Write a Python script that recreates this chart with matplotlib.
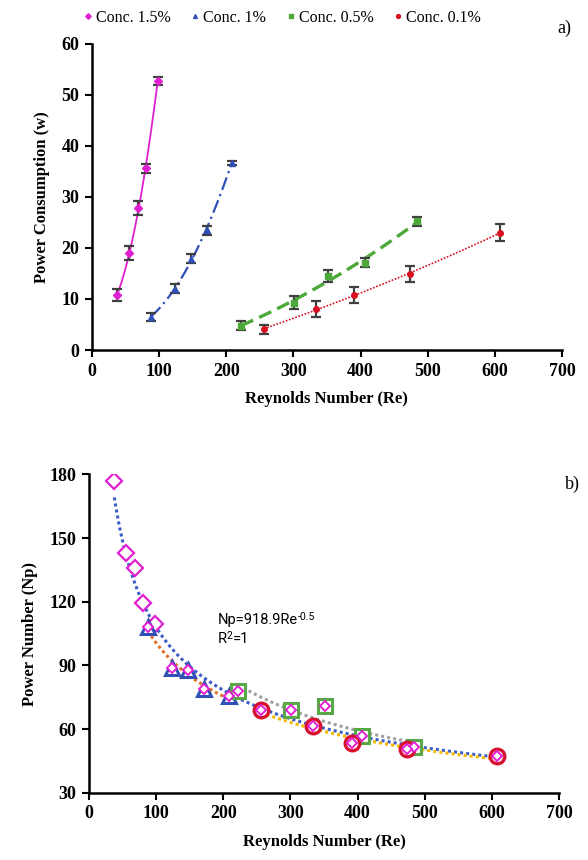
import numpy as np
import matplotlib
matplotlib.use('Agg')
import matplotlib.pyplot as plt

plt.rcParams['font.family'] = 'Liberation Serif'

# Reynolds numbers per concentration
re_15 = [38, 56, 69, 81, 98]
re_10 = [88, 124, 147, 172, 208]
re_05 = [222, 301, 351, 406, 484]
re_01 = [256, 334, 391, 473, 608]

# power consumption (w) and error bars
p_15 = [10.8, 19.0, 27.9, 35.6, 52.8]
e_15 = [1.25, 1.3, 1.4, 0.9, 0.8]
p_10 = [6.5, 12.0, 17.9, 23.5, 36.7]
e_10 = [0.8, 0.9, 0.9, 0.9, 0.4]
p_05 = [4.8, 9.3, 14.5, 17.1, 25.2]
e_05 = [0.9, 1.3, 1.25, 0.9, 0.9]
p_01 = [4.1, 8.0, 10.8, 14.9, 23.0]
e_01 = [0.9, 1.6, 1.6, 1.6, 1.65]

# power number
np_15 = [177, 143, 136, 119.2, 109.3]
np_10 = [108, 89, 87.8, 78.7, 75.6]
np_05 = [78, 69, 71, 56.9, 51.7]
np_01 = [69, 61.4, 53.6, 50.5, 47.3]

labels = ['Conc. 1.5%', 'Conc. 1%', 'Conc. 0.5%', 'Conc. 0.1%']

fig = plt.figure(figsize=(5.88, 8.6), dpi=100)
ax1 = fig.add_axes([0.156, 0.593, 0.8, 0.356])
ax2 = fig.add_axes([0.151, 0.078, 0.8, 0.3705])

# ---- panel a
series = [
    (re_15, p_15, e_15, '#E020D0', 'D', '-', 1.3),
    (re_10, p_10, e_10, '#3050B8', '^', (0, (6, 2, 1, 2)), 1.6),
    (re_05, p_05, e_05, '#4CA838', 's', (0, (4, 2)), 2.4),
    (re_01, p_01, e_01, '#D81020', 'o', (0, (1, 1)), 1.2),
]
handles = []
for (x, y, e, c, m, ls, lw), lab in zip(series, labels):
    coef = np.polyfit(x, y, 2)
    xs = np.linspace(min(x), max(x), 100)
    ax1.plot(xs, np.polyval(coef, xs), color=c, ls=ls, lw=lw, zorder=2)
    ax1.errorbar(x, y, yerr=e, fmt='none', ecolor='#404040', elinewidth=1.6,
                 capsize=3.5, capthick=1.6, zorder=3)
    h, = ax1.plot(x, y, ls='none', marker=m, color=c, ms=4, zorder=4,
                  label=lab)
    handles.append(h)

ax1.set_xlim(0, 700)
ax1.set_ylim(0, 60)
ax1.set_xticks(range(0, 701, 100))
ax1.set_yticks(range(0, 61, 10))
ax1.set_xlabel('Reynolds Number (Re)', fontsize=12, fontweight='bold', labelpad=8)
ax1.set_ylabel('Power Consumption (w)', fontsize=12, fontweight='bold', labelpad=8)
fig.legend(handles=handles, labels=labels, loc='center', bbox_to_anchor=(0.48, 0.979),
           ncol=4, frameon=False, fontsize=11.5, handlelength=0.5,
           handletextpad=0.25, columnspacing=1.3, markerscale=0.7)
fig.text(0.948, 0.962, 'a)', fontsize=13)

# ---- panel b
re_all = re_15 + re_10 + re_05 + re_01
np_all = np_15 + np_10 + np_05 + np_01

dot = (0, (1, 1))
b_all = np.polyfit(np.log(re_all), np.log(np_all), 1)
xs = np.linspace(min(re_all), max(re_all), 200)
ax2.plot(xs, np.exp(np.polyval(b_all, np.log(xs))), color='#3A5CC8', ls=dot, lw=2.2, zorder=2)
for x, y, c in [(re_10, np_10, '#E07028'), (re_05, np_05, '#A0A0A0'), (re_01, np_01, '#F5B800')]:
    b = np.polyfit(np.log(x), np.log(y), 1)
    xs = np.linspace(min(x), max(x), 100)
    ax2.plot(xs, np.exp(np.polyval(b, np.log(xs))), color=c, ls=dot, lw=2.2, zorder=2)

ax2.plot(re_15, np_15, ls='none', marker='D', ms=8, mfc='white', mec='#E020D0', mew=1.6, zorder=4)
ax2.plot(re_10, np_10, ls='none', marker='^', ms=10, mfc='white', mec='#3050B8', mew=2.2, zorder=4)
ax2.plot(re_05, np_05, ls='none', marker='s', ms=10, mfc='white', mec='#58A848', mew=2.2, zorder=4)
ax2.plot(re_01, np_01, ls='none', marker='o', ms=10.5, mfc='white', mec='#D81030', mew=2.4, zorder=4)
ax2.plot(re_10 + re_05 + re_01, np_10 + np_05 + np_01, ls='none', marker='D', ms=5,
         mfc='white', mec='#E020D0', mew=1.4, zorder=5)

ax2.set_xlim(0, 700)
ax2.set_ylim(30, 180)
ax2.set_xticks(range(0, 701, 100))
ax2.set_yticks(range(30, 181, 30))
ax2.set_xlabel('Reynolds Number (Re)', fontsize=12, fontweight='bold', labelpad=8)
ax2.set_ylabel('Power Number (Np)', fontsize=12, fontweight='bold', labelpad=8)

# trend equation, superscripts placed by hand so the hyphen stays a hyphen
t1 = ax2.text(192, 108, 'Np=918.9Re', family='Roboto', fontsize=10.5, va='bottom')
ax2.annotate('-0.5', xy=(1, 0.55), xycoords=t1, family='Roboto', fontsize=7.5)
t2 = ax2.text(192, 99, 'R', family='Roboto', fontsize=10.5, va='bottom')
t3 = ax2.annotate('2', xy=(1, 0.55), xycoords=t2, family='Roboto', fontsize=7.5)
ax2.annotate('=1', xy=(1, 0), xycoords=(t3, t2), family='Roboto', fontsize=10.5,
             va='bottom')
fig.text(0.96, 0.432, 'b)', fontsize=13)

for ax in (ax1, ax2):
    for s in ('top', 'right'):
        ax.spines[s].set_visible(False)
    for s in ('left', 'bottom'):
        ax.spines[s].set_linewidth(1.8)
    ax.tick_params(width=1.5, length=5, labelsize=13, pad=4)
    for t in ax.get_xticklabels() + ax.get_yticklabels():
        t.set_fontweight('bold')

fig.savefig('out.png', dpi=100)
